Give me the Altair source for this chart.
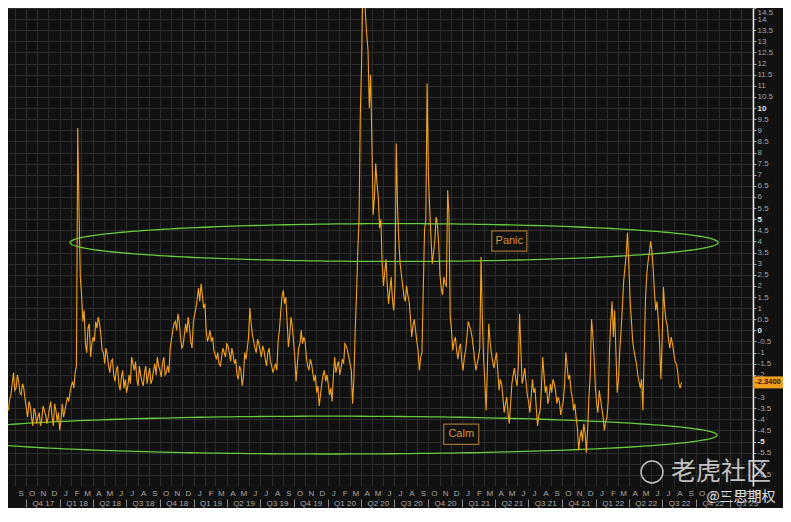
import altair as alt
import numpy as np
import pandas as pd

# ---------------- data ----------------
START = "2017-08-14"          # weekly observations (Mondays)
VALUES = [
    -3.6, -2.9, -1.9, -2.6, -2.3, -2.9, -2.6, -3.5, -3.2, -3.9,
    -3.5, -4.2, -3.7, -4.0, -3.6, -4.2, -3.5, -3.9, -3.3, -4.1,
    -4.5, -3.3, -3.6, -3.0, -2.8, -2.3, -1.9, 9.1, 2.4, 0.4,
    -0.6, 0.1, -1.2, -0.3, 0.4, 0.6, -0.2, -1.0, -0.8, -1.6,
    -1.4, -2.0, -1.8, -2.4, -2.1, -2.6, -2.8, -2.0, -1.2, -1.8,
    -2.2, -1.6, -2.3, -1.9, -2.4, -1.7, -2.2, -1.5, -1.2, -1.8,
    -1.5, -2.0, -1.6, -0.8, 0.0, 0.4, 0.75, -0.3, -0.7, 0.3,
    0.6, -0.5, 0.4, 1.0, 1.9, 2.1, 1.0, 0.0, -0.3, -0.5,
    -0.9, -1.3, -1.5, -1.2, -1.0, -0.6, -1.0, -0.8, -1.5, -2.0,
    -1.6, -2.5, -1.0, -0.8, 1.0, -0.2, -0.8, -0.4, -0.9, -0.7,
    -1.3, -1.0, -1.4, -1.9, -1.5, -0.5, 0.8, 1.8, 1.5, -0.75,
    0.6, -0.5, -2.3, -0.8, 0.0, -0.3, -1.2, -1.8, -1.5, -2.3,
    -2.8, -3.4, -2.4, -1.8, -2.0, -2.9, -3.2, -1.2, -1.6, -2.0,
    -1.3, -0.6, -0.9, -1.5, -3.3, 0.0, 3.5, 9.7, 15.5, 14.2,
    12.6, 11.5, 5.2, 7.5, 6.0, 5.0, 2.0, 3.2, 1.2, 2.4,
    0.9, 8.4, 4.0, 2.5, 1.5, 2.0, 1.3, -0.3, 0.5, -0.5,
    -1.8, -1.0, 4.5, 11.1, 5.5, 3.0, 4.0, 4.8, 2.5, 1.6,
    2.1, 6.3, 0.6, -0.9, -0.3, -1.3, -0.6, -1.8, -0.9, 0.4,
    0.0, -0.8, -1.8, -1.2, 3.3, -1.3, -3.6, 0.3, -1.0, -1.7,
    -1.0, -2.7, -2.4, -3.7, -3.0, -4.2, -2.4, -1.7, -2.5, 0.75,
    -2.4, -1.7, -2.9, -3.7, -2.2, -2.6, -4.3, -3.6, -1.2, -2.8,
    -3.3, -2.4, -2.2, -2.7, -3.0, -3.8, -3.2, -1.0, -2.2, -2.7,
    -3.6, -3.9, -5.4, -4.5, -4.2, -5.5, -3.0, 0.5, -1.2, -3.3,
    -2.7, -3.5, -4.5, -3.9, -0.9, 1.3, 0.9, -2.8, -0.9, 1.0,
    2.8, 4.4, 1.4, -0.45, -1.2, -2.0, -2.6, -3.6, 1.4, 3.1,
    4.0, 2.8, 0.9, 0.45, -2.2, 1.95, 0.45, -0.45, -0.3, -1.0,
    -1.5, -2.4, -2.34,
]
# mid-week readings (Thursdays/Fridays between the Mondays above)
MID_VALUES = [
    -3.1, -2.4, -2.7, -2.0, -2.8, -2.4, -3.1, -3.9, -3.4, -4.3,
    -3.7, -3.9, -4.3, -3.4, -3.8, -3.9, -3.2, -4.3, -3.6, -3.7,
    -4.0, -3.9, -3.3, -3.2, -2.5, -2.6, -1.6, 5.4, 1.6, 0.9,
    -1.0, 0.3, -0.6, -0.5, 0.1, 0.3, -0.9, -1.5, -1.1, -1.9,
    -1.3, -2.3, -1.6, -2.7, -1.8, -2.2, -2.5, -2.4, -1.5, -1.4,
    -2.5, -2.0, -2.5, -1.6, -2.0, -2.4, -1.8, -2.0, -1.6, -2.1,
    -1.2, -1.9, -1.9, -0.4, 0.3, 0.0, 0.4, -0.8, -0.2, -0.1,
    0.1, -0.8, 0.7, 1.4, 1.3, 1.6, 1.2, -0.5, 0.0, -0.3,
    -1.1, -1.0, -1.6, -0.8, -1.2, -0.7, -1.4, -1.1, -1.3, -2.2,
    -1.8, -2.1, -1.3, -0.3, 0.3, -0.5, -1.0, -0.6, -1.2, -0.9,
    -1.6, -0.8, -1.6, -1.7, -1.8, 0.0, 1.5, 1.2, 0.4, -0.2,
    0.2, -1.2, -1.5, -0.6, -0.6, -0.5, -1.6, -1.3, -1.9, -2.0,
    -2.5, -2.9, -2.0, -2.3, -2.4, -2.6, -2.1, -1.9, -1.4, -1.7,
    -1.5, -0.7, -1.2, -1.8, -2.2, 1.5, 5.0, 12.0, 16.0, 13.3,
    10.0, 8.5, 6.0, 6.6, 4.6, 3.0, 2.6, 2.0, 1.8, 1.4,
    2.0, 5.5, 3.0, 2.0, 1.3, 1.6, 0.6, 0.2, 0.0, -0.9,
    -1.2, 1.8, 5.0, 7.0, 4.2, 3.5, 5.1, 3.9, 1.9, 2.4,
    2.0, 5.2, 0.0, -0.5, -0.9, -0.8, -1.4, -1.2, -0.3, 0.2,
    -0.3, -1.3, -1.5, -0.8, 0.5, -2.4, -1.5, -0.5, -1.4, -1.3,
    -1.8, -2.2, -3.0, -3.3, -3.7, -3.3, -2.0, -2.2, -1.6, -0.9,
    -2.1, -2.3, -3.2, -3.0, -2.8, -3.5, -3.8, -2.6, -2.0, -2.5,
    -3.0, -2.8, -2.4, -3.3, -3.2, -3.5, -2.5, -1.6, -2.0, -3.0,
    -3.3, -4.4, -4.8, -5.0, -4.6, -4.4, -2.0, -0.2, -2.6, -3.7,
    -3.1, -3.9, -4.1, -3.2, 0.4, -0.3, -1.0, -2.2, 0.0, 2.2,
    3.4, 3.0, 0.5, -0.9, -1.5, -2.3, -2.2, -1.0, 2.5, 3.5,
    3.6, 1.7, 1.3, -0.6, -0.5, 1.0, 0.2, -0.8, -0.6, -1.4,
    -1.8, -2.6,
]

# annotation zones (ellipses): centre date, half-width (days), centre value, half-height
ZONE_NAMES = ["Panic", "Calm"]
ZONE_CENTER_DATES = ["2020-06-30", "2020-01-07"]
ZONE_HALF_DAYS = [883, 1055]
ZONE_MID_VALUES = [3.95, -4.71]
ZONE_HALF_VALUES = [0.85, 0.85]
ZONE_LABEL_DATES = ["2021-05-10", "2020-12-30"]
ZONE_LABEL_VALUES = [4.02, -4.67]

Y_TICKS = [v / 2 for v in range(-13, 30)]   # -6.5 ... 14.5
X_DOMAIN = [alt.DateTime(year=2017, month=8, date=13), alt.DateTime(year=2023, month=3, date=5)]
Y_DOMAIN = [-7.0, 14.5]

W, H = 745, 478
BG = "#111111"
GRID = "#2c2c2c"
ORANGE = "#f3a21d"
GREEN = "#66cc3c"
LABEL = "#a8a8a8"

# ---------------- tables ----------------
d_main = pd.date_range(START, periods=len(VALUES), freq="7D")
d_mid = pd.date_range(pd.Timestamp(START) + pd.Timedelta(hours=84), periods=len(MID_VALUES), freq="7D")
df = pd.DataFrame({"ts": list(d_main) + list(d_mid), "value": VALUES + MID_VALUES})
df = df.sort_values("ts").reset_index(drop=True)
df["date"] = df["ts"].dt.strftime("%Y-%m-%dT%H:%M:%S")
df = df[["date", "value"]]

ell_frames = []
t = np.linspace(0, 2 * np.pi, 241)
for name, c, hd, mid, hv in zip(ZONE_NAMES, ZONE_CENTER_DATES, ZONE_HALF_DAYS,
                                ZONE_MID_VALUES, ZONE_HALF_VALUES):
    c = pd.Timestamp(c)
    ds = [(c + pd.Timedelta(days=float(hd * np.cos(a)))).strftime("%Y-%m-%dT%H:%M:%S") for a in t]
    ell_frames.append(pd.DataFrame({"name": name, "order": np.arange(len(t)),
                                    "date": ds, "value": mid + hv * np.sin(t)}))
ell = pd.concat(ell_frames, ignore_index=True)

labels = pd.DataFrame({"name": ZONE_NAMES,
                       "date": [d + "T00:00:00" for d in ZONE_LABEL_DATES],
                       "value": ZONE_LABEL_VALUES})

last = df.tail(1).copy()
last["txt"] = last["value"].map(lambda v: f"{v:.4f}")

xscale = alt.Scale(domain=X_DOMAIN, nice=False)
yscale = alt.Scale(domain=Y_DOMAIN, nice=False, zero=False)

month_axis = alt.Axis(
    orient="bottom", title=None,
    tickCount={"interval": "month", "step": 1},
    labelExpr="substring(timeFormat(datum.value, '%b'), 0, 1)",
    labelOffset=5.6, labelPadding=3, ticks=False, domain=False,
    grid=True, gridColor=GRID, gridWidth=1,
    labelColor=LABEL, labelFont="Liberation Sans", labelFontSize=8,
    labelOverlap=False, labelFlush=False,
)
quarter_axis = alt.Axis(
    orient="bottom", title=None, offset=13,
    tickCount={"interval": "month", "step": 3},
    labelExpr="'Q' + quarter(datum.value) + ' ' + timeFormat(datum.value, '%y')",
    labelOffset=16.8, labelPadding=-8, ticks=True, tickSize=8,
    tickColor="#8a8a8a", tickWidth=1, domain=False, grid=False,
    labelColor=LABEL, labelFont="Liberation Sans", labelFontSize=8,
    labelOverlap=False, labelFlush=False,
)
y_axis = alt.Axis(
    orient="right", title=None, values=Y_TICKS,
    labelExpr="toString(datum.value)",
    domain=True, domainColor="#e8e8e8", domainWidth=1.5,
    ticks=True, tickSize=3, tickColor="#9a9a9a", labelPadding=1,
    labelColor={"condition": {"test": "datum.value % 5 == 0", "value": "#e6e6e6"}, "value": "#a4a4a4"},
    labelFontWeight={"condition": {"test": "datum.value % 5 == 0", "value": "bold"}, "value": "normal"},
    labelFont="Liberation Sans", labelFontSize=8,
    grid=True, gridColor=GRID, gridWidth=1, labelFlush=True, labelOverlap=False,
)

Y_ENC = alt.Y("value:Q", scale=yscale, axis=y_axis)

ellipses = alt.Chart(ell).mark_line(color=GREEN, strokeWidth=1.3, clip=True).encode(
    x=alt.X("date:T", scale=xscale, axis=quarter_axis),
    y=Y_ENC,
    detail="name:N", order="order:Q",
)

line = alt.Chart(df).mark_line(color=ORANGE, strokeWidth=1.1, clip=True).encode(
    x=alt.X("date:T", scale=xscale, axis=month_axis),
    y=Y_ENC,
)

BOX_PATH = "M-1,-0.58L1,-0.58L1,0.58L-1,0.58Z"
boxes = alt.Chart(labels).mark_point(
    shape=BOX_PATH, size=1225, filled=True, fill=BG, stroke="#a0702c",
    strokeWidth=1.2, opacity=1,
).encode(x=alt.X("date:T", scale=xscale, axis=None), y=Y_ENC)

texts = alt.Chart(labels).mark_text(
    color="#d7953c", font="Liberation Sans", fontSize=11, baseline="middle", align="center",
).encode(x=alt.X("date:T", scale=xscale, axis=None), y=Y_ENC, text="name:N")

LAST_PATH = "M-1,-0.4L1,-0.4L1,0.4L-1,0.4Z"
last_box = alt.Chart(last).mark_point(
    shape=LAST_PATH, size=900, filled=True, color="#f0a020", opacity=1,
).encode(x=alt.value(W + 15), y=Y_ENC)
last_txt = alt.Chart(last).mark_text(
    color="#2a1600", font="Liberation Sans", fontSize=7.5, fontWeight="bold",
    baseline="middle", align="center",
).encode(x=alt.value(W + 15), y=Y_ENC, text="txt:N")

wm1 = alt.Chart(pd.DataFrame({"t": ["老虎社区"]})).mark_text(
    font="Noto Sans CJK SC", fontSize=25, color="#d4d4d4", opacity=0.9, align="center", baseline="middle",
).encode(x=alt.value(713), y=alt.value(464), text="t:N")
wm_logo = alt.Chart(pd.DataFrame({"t": [""]})).mark_point(
    shape="circle", size=480, filled=False, color="#d4d4d4", strokeWidth=1.5, opacity=0.9,
).encode(x=alt.value(644), y=alt.value(464))
wm2 = alt.Chart(pd.DataFrame({"t": ["@三思期权"]})).mark_text(
    font="Noto Sans CJK SC", fontSize=14, color="#f0f0f0", opacity=0.9, align="center", baseline="middle",
).encode(x=alt.value(733), y=alt.value(489), text="t:N")

chart = alt.layer(
    ellipses, line, boxes, texts, last_box, last_txt, wm_logo, wm1, wm2
).resolve_axis(x="independent").properties(
    width=W, height=H,
    padding={"left": 0, "top": 0, "right": 30, "bottom": 22},
    autosize=alt.AutoSizeParams(type="none"),
    background=BG,
).configure_view(stroke=None, fill=BG)

chart.save("out.html", embed_options={"renderer": "svg", "actions": False})
